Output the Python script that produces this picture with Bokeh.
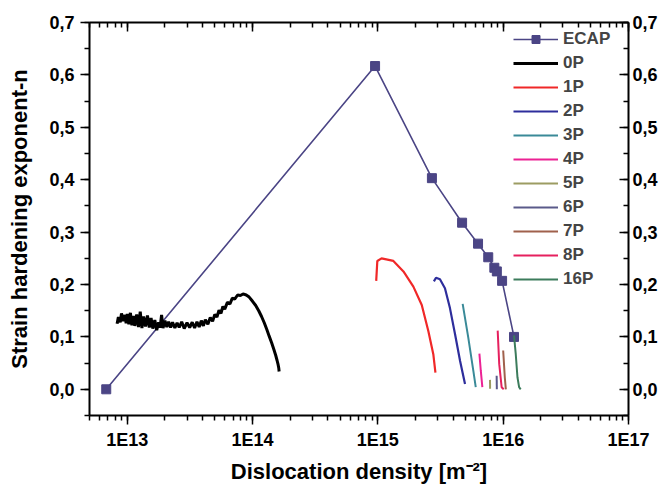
from bokeh.plotting import figure
from bokeh.models import Range1d, LinearAxis, LogAxis, LogTicker, SingleIntervalTicker, CustomJSTickFormatter
from bokeh.embed import file_html
from bokeh.resources import INLINE

# ---------------- data ----------------
ecap_x = [6.8e12, 9.5e14, 2.7e15, 4.7e15, 6.3e15, 7.6e15, 8.5e15, 8.9e15, 9.8e15, 1.22e16]
ecap_y = [0.0, 0.617, 0.403, 0.318, 0.278, 0.252, 0.232, 0.225, 0.207, 0.100]

p0_x = [8.3e12, 8.5e12, 8.8e12, 9.0e12, 9.3e12, 9.6e12, 9.8e12, 1.0e13, 1.03e13, 1.06e13,
        1.09e13, 1.12e13, 1.15e13, 1.19e13, 1.23e13, 1.27e13, 1.31e13, 1.35e13, 1.40e13, 1.45e13,
        1.50e13, 1.55e13, 1.60e13, 1.66e13, 1.72e13, 1.78e13, 1.83e13, 1.88e13, 1.93e13, 2.0e13,
        2.07e13, 2.14e13, 2.22e13, 2.30e13, 2.40e13, 2.50e13, 2.60e13, 2.72e13, 2.85e13, 3.0e13,
        3.15e13, 3.3e13, 3.45e13, 3.6e13, 3.75e13, 3.9e13, 4.05e13, 4.2e13, 4.4e13, 4.6e13,
        4.8e13, 5.0e13, 5.2e13, 5.4e13, 5.6e13, 5.8e13, 6.0e13, 6.3e13, 6.6e13, 6.9e13,
        7.2e13, 7.6e13, 8.0e13, 8.4e13, 8.9e13, 9.4e13, 1.0e14, 1.06e14, 1.12e14, 1.18e14,
        1.24e14, 1.30e14, 1.36e14, 1.42e14, 1.48e14, 1.53e14, 1.57e14, 1.60e14, 1.62e14, 1.63e14]
p0_y = [0.125, 0.138, 0.128, 0.145, 0.130, 0.142, 0.126, 0.144, 0.124, 0.146,
        0.122, 0.140, 0.121, 0.143, 0.119, 0.148, 0.117, 0.139, 0.120, 0.141,
        0.118, 0.136, 0.116, 0.132, 0.113, 0.128, 0.118, 0.142, 0.117, 0.131,
        0.119, 0.129, 0.118, 0.128, 0.117, 0.127, 0.118, 0.129, 0.116, 0.127,
        0.118, 0.128, 0.117, 0.129, 0.119, 0.131, 0.121, 0.133, 0.124, 0.137,
        0.130, 0.143, 0.138, 0.151, 0.145, 0.158, 0.153, 0.166, 0.163, 0.174,
        0.172, 0.180, 0.179, 0.182, 0.180, 0.176, 0.168, 0.160, 0.150, 0.139,
        0.127, 0.114, 0.101, 0.089, 0.076, 0.065, 0.055, 0.047, 0.040, 0.034]

p1_x = [9.7e14, 9.9e14, 1.07e15, 1.33e15, 1.6e15, 1.92e15, 2.24e15, 2.53e15, 2.77e15, 2.88e15]
p1_y = [0.207, 0.245, 0.250, 0.245, 0.225, 0.196, 0.161, 0.111, 0.067, 0.032]

p2_x = [2.8e15, 2.91e15, 3.13e15, 3.43e15, 3.76e15, 4.13e15, 4.53e15, 4.96e15]
p2_y = [0.206, 0.213, 0.210, 0.193, 0.155, 0.105, 0.054, 0.010]

p3_x = [4.75e15, 5.27e15, 5.78e15, 6.04e15]
p3_y = [0.163, 0.098, 0.035, 0.004]

p4_x = [6.46e15, 6.63e15, 6.82e15]
p4_y = [0.068, 0.035, 0.004]

p5_x = [7.85e15, 7.86e15]
p5_y = [0.018, 0.001]

p6_x = [8.87e15, 8.9e15]
p6_y = [0.026, 0.000]

p7_x = [1.0e16, 1.03e16, 1.05e16]
p7_y = [0.074, 0.023, 0.000]

p8_x = [9.04e15, 9.3e15, 9.72e15, 1.01e16]
p8_y = [0.112, 0.048, 0.004, 0.000]

p16_x = [1.22e16, 1.26e16, 1.30e16, 1.34e16, 1.38e16]
p16_y = [0.103, 0.067, 0.023, 0.004, 0.000]

series = [
    ("0P", p0_x, p0_y, "#000000", 3.0),
    ("1P", p1_x, p1_y, "#f02828", 2.2),
    ("2P", p2_x, p2_y, "#2e2e9c", 2.2),
    ("3P", p3_x, p3_y, "#3a8a98", 2.0),
    ("4P", p4_x, p4_y, "#ec2294", 2.0),
    ("5P", p5_x, p5_y, "#9c9c62", 2.0),
    ("6P", p6_x, p6_y, "#5a5a8a", 2.0),
    ("7P", p7_x, p7_y, "#a0614c", 2.0),
    ("8P", p8_x, p8_y, "#e6205e", 2.0),
    ("16P", p16_x, p16_y, "#3c7c5c", 2.0),
]

FONT = "Liberation Sans"

p = figure(width=660, height=486, output_backend="svg", toolbar_location=None,
           x_axis_type="log", x_range=Range1d(5e12, 1e17), y_range=Range1d(-0.05, 0.7001),
           min_border_left=89, min_border_right=31, min_border_top=22, min_border_bottom=67)
p.outline_line_color = None
p.grid.visible = False
p.background_fill_color = "white"

ecap_color = "#4b4585"
p.line(ecap_x, ecap_y, line_color=ecap_color, line_width=1.6, legend_label="ECAP")
p.scatter(ecap_x, ecap_y, marker="square", size=9, fill_color=ecap_color, line_color=ecap_color,
          legend_label="ECAP")

for name, xs, ys, col, lw in series:
    p.line(xs, ys, line_color=col, line_width=lw, legend_label=name)

xfmt = CustomJSTickFormatter(code="return '1E' + Math.round(Math.log10(tick));")
yfmt = CustomJSTickFormatter(code="var v = Math.abs(tick) < 1e-9 ? 0 : tick; return v.toFixed(1).replace('.', ',');")
blank = CustomJSTickFormatter(code="return '';")

def style(ax, inward):
    ax.axis_line_width = 2
    ax.axis_line_color = "black"
    ax.major_tick_line_width = 1.5
    ax.minor_tick_line_width = 1.5
    if inward:
        ax.major_tick_in = 9
        ax.major_tick_out = 0
        ax.minor_tick_in = 5
        ax.minor_tick_out = 0
    else:
        ax.major_tick_in = 0
        ax.major_tick_out = 9
        ax.minor_tick_in = 0
        ax.minor_tick_out = 5
    ax.major_label_text_font = FONT
    ax.major_label_text_font_style = "bold"
    ax.major_label_text_font_size = "18px"
    ax.major_label_text_color = "black"
    ax.axis_label_text_font = FONT
    ax.axis_label_text_font_style = "bold"
    ax.axis_label_text_font_size = "22px"
    ax.axis_label_text_color = "black"

xa = p.xaxis[0]
xa.ticker = LogTicker(num_minor_ticks=10)
xa.formatter = xfmt
xa.axis_label = "Dislocation density [m\u207b\u00b2]"
style(xa, False)
xa.major_label_standoff = 5
xa.axis_label_standoff = 6

ya = p.yaxis[0]
ya.ticker = SingleIntervalTicker(interval=0.1, num_minor_ticks=2)
ya.formatter = yfmt
ya.axis_label = "Strain hardening exponent-n"
style(ya, False)
ya.major_label_standoff = 6
ya.axis_label_standoff = 14

ra = LinearAxis(ticker=SingleIntervalTicker(interval=0.1, num_minor_ticks=2), formatter=yfmt)
style(ra, True)
ra.major_label_standoff = 4
p.add_layout(ra, "right")

ta = LogAxis(ticker=LogTicker(num_minor_ticks=10), formatter=blank)
style(ta, True)
ta.major_label_standoff = 0
p.add_layout(ta, "above")

lg = p.legend[0]
lg.location = (424, 126)
lg.padding = 0
lg.margin = 0
lg.spacing = 4
lg.glyph_height = 20
lg.glyph_width = 45
lg.label_standoff = 5
lg.label_text_font = FONT
lg.label_text_font_style = "bold"
lg.label_text_font_size = "17px"
lg.label_height = 20
lg.border_line_color = None
lg.background_fill_alpha = 0

open("out.html", "w").write(file_html(p, INLINE))
